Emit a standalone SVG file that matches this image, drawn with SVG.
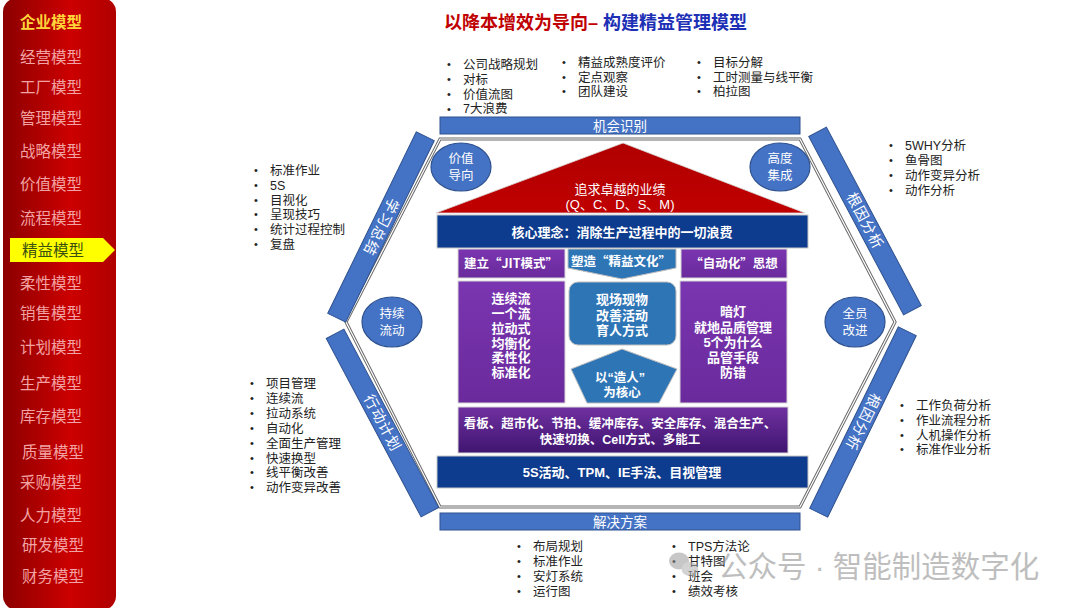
<svg xmlns="http://www.w3.org/2000/svg" width="1080" height="608" viewBox="0 0 1080 608">
<defs>
<linearGradient id="sideG" x1="0" y1="0" x2="1" y2="0">
<stop offset="0" stop-color="#8c0000"/><stop offset="0.6" stop-color="#cc0000"/><stop offset="1" stop-color="#b00000"/>
</linearGradient>
<linearGradient id="purG" x1="0" y1="0" x2="0" y2="1">
<stop offset="0" stop-color="#7a35b0"/><stop offset="1" stop-color="#6a2a9c"/>
</linearGradient>
<linearGradient id="bandG" x1="0" y1="0" x2="0" y2="1">
<stop offset="0" stop-color="#7030a0"/><stop offset="1" stop-color="#3f1570"/>
</linearGradient>
<linearGradient id="roofG" x1="0" y1="0" x2="0" y2="1">
<stop offset="0" stop-color="#b00000"/><stop offset="1" stop-color="#c00000"/>
</linearGradient>
<style>
text{font-family:"Liberation Sans","Noto Sans CJK SC",sans-serif;}
.cjk{font-family:"Noto Sans CJK SC",sans-serif;}
.side{font-size:15.5px;fill:#f2a3a3;}
.b{font-size:12.5px;fill:#222;}
.bul{font-size:11px;fill:#222;}
.bar{fill:#4472c4;stroke:#2f528f;stroke-width:1;}
.barT{font-size:13.5px;fill:#fff;text-anchor:middle;}
.circ{fill:#4472c4;stroke:#2f528f;stroke-width:1.2;}
.cT{font-size:12.5px;fill:#fff;text-anchor:middle;}
.wb{font-size:13px;fill:#fff;font-weight:bold;text-anchor:middle;}
.wn{font-size:13px;fill:#fff;text-anchor:middle;}
.pur{fill:url(#purG);stroke:#d8d8d8;stroke-width:1;}
.blu{fill:#2e75b6;stroke:#bfbfbf;stroke-width:1;}
.dk{fill:#0d3b8e;stroke:#c8c8c8;stroke-width:1;}
</style>
</defs>
<rect width="1080" height="608" fill="#ffffff"/>

<g id="sidebar">
<rect x="3" y="-2" width="113" height="612" rx="14" fill="url(#sideG)"/>
<text x="20" y="28" style="font-size:15.5px;fill:#ffd43b;font-weight:bold;">企业模型</text>
<text class="side" x="20" y="63">经营模型</text>
<text class="side" x="20" y="93">工厂模型</text>
<text class="side" x="20" y="124">管理模型</text>
<text class="side" x="20" y="157">战略模型</text>
<text class="side" x="20" y="190">价值模型</text>
<text class="side" x="20" y="224">流程模型</text>
<polygon points="10,238 103,238 115,250 103,262 10,262" fill="#ffff00"/>
<text x="22" y="256" style="font-size:15.5px;fill:#3a4f10;">精益模型</text>
<text class="side" x="20" y="289">柔性模型</text>
<text class="side" x="20" y="319">销售模型</text>
<text class="side" x="20" y="353">计划模型</text>
<text class="side" x="20" y="389">生产模型</text>
<text class="side" x="20" y="422">库存模型</text>
<text class="side" x="22" y="458">质量模型</text>
<text class="side" x="20" y="488">采购模型</text>
<text class="side" x="20" y="521">人力模型</text>
<text class="side" x="22" y="551">研发模型</text>
<text class="side" x="22" y="582">财务模型</text>
</g>

<g id="title">
<text x="444" y="29" style="font-size:18px;font-weight:bold;"><tspan fill="#c00000">以降本增效为导向– </tspan><tspan fill="#1c2fb5">构建精益管理模型</tspan></text>
</g>

<g id="frame">
<polygon points="440,139 800,139 895,322 800,507 440,507 346,322" fill="none" stroke="#6b6b6b" stroke-width="3.2"/>
<polygon points="440,139 800,139 895,322 800,507 440,507 346,322" fill="none" stroke="#ffffff" stroke-width="1.2"/>
</g>

<g id="bar-top">
<rect class="bar" x="440" y="117" width="360" height="17"/>
<text class="barT" x="620" y="130.5">机会识别</text>
</g>
<g id="bar-bottom">
<rect class="bar" x="440" y="513" width="360" height="17"/>
<text class="barT" x="620" y="526.5">解决方案</text>
</g>
<g id="bar-upper-left" transform="translate(381,227) rotate(116)">
<rect class="bar" x="-101" y="-10" width="202" height="20"/>
<text class="barT" x="0" y="5" style="font-size:14.5px;letter-spacing:1px;">学习总结</text>
</g>
<g id="bar-lower-left" transform="translate(382.5,423) rotate(62)">
<rect class="bar" x="-101" y="-10" width="202" height="20"/>
<text class="barT" x="0" y="5" style="font-size:14.5px;letter-spacing:1px;">行动计划</text>
</g>
<g id="bar-upper-right" transform="translate(865,221) rotate(62)">
<rect class="bar" x="-101" y="-10" width="202" height="20"/>
<text class="barT" x="0" y="5" style="font-size:14.5px;letter-spacing:1px;">根因分析</text>
</g>
<g id="bar-lower-right" transform="translate(863,422) rotate(116)">
<rect class="bar" x="-101" y="-10" width="202" height="20"/>
<text class="barT" x="0" y="5" style="font-size:14.5px;letter-spacing:1px;">根因分析</text>
</g>

<g id="c-value">
<ellipse class="circ" cx="461" cy="167" rx="30" ry="24"/>
<text class="cT" x="461" y="163">价值</text><text class="cT" x="461" y="180">导向</text>
</g>
<g id="c-integrate">
<ellipse class="circ" cx="780" cy="167" rx="30" ry="24"/>
<text class="cT" x="780" y="163">高度</text><text class="cT" x="780" y="180">集成</text>
</g>
<g id="c-flow">
<ellipse class="circ" cx="392" cy="322" rx="30" ry="25"/>
<text class="cT" x="392" y="318">持续</text><text class="cT" x="392" y="335">流动</text>
</g>
<g id="c-all">
<ellipse class="circ" cx="855" cy="322" rx="30" ry="25"/>
<text class="cT" x="855" y="318">全员</text><text class="cT" x="855" y="335">改进</text>
</g>

<g id="roof">
<polygon points="623,143 805,213 436,213" fill="url(#roofG)" stroke="#d9d9d9" stroke-width="0.8"/>
<text class="wn" x="620" y="194">追求卓越的业绩</text>
<text class="wn" x="620" y="209">(Q、C、D、S、M)</text>
</g>

<g id="core">
<rect class="dk" x="437" y="215" width="371" height="33"/>
<text class="wb" x="622" y="236.5">核心理念：消除生产过程中的一切浪费</text>
</g>

<g id="jit">
<rect class="pur" x="458" y="249" width="107" height="29"/>
<text class="wb cjk" x="511" y="268" style="font-size:12.5px;">建立“JIT模式”</text>
<rect class="pur" x="458" y="281" width="107" height="122"/>
<text class="wb" x="511" y="303">连续流</text>
<text class="wb" x="511" y="318">一个流</text>
<text class="wb" x="511" y="333">拉动式</text>
<text class="wb" x="511" y="348">均衡化</text>
<text class="wb" x="511" y="362">柔性化</text>
<text class="wb" x="511" y="377">标准化</text>
</g>

<g id="culture">
<polygon class="blu" points="568,249 676,249 676,268 622,279 568,268"/>
<text class="wb cjk" x="621" y="266" style="font-size:12.5px;">塑造“精益文化”</text>
<rect class="blu" x="569" y="282" width="107" height="63" rx="9"/>
<text class="wb" x="622" y="304">现场现物</text>
<text class="wb" x="622" y="320">改善活动</text>
<text class="wb" x="622" y="335">育人方式</text>
</g>

<g id="people">
<polygon class="blu" points="622,349 677,369 659,403 587,403 571,369"/>
<text class="wb" x="620" y="382" style="font-size:12.5px;">以“造人”</text>
<text class="wb" x="622" y="397" style="font-size:12.5px;">为核心</text>
</g>

<g id="jidoka">
<rect class="pur" x="681" y="249" width="106" height="29"/>
<text class="wb cjk" x="734" y="268" style="font-size:12.5px;">“自动化”思想</text>
<rect class="pur" x="680" y="281" width="107" height="122"/>
<text class="wb" x="733" y="316">暗灯</text>
<text class="wb" x="733" y="332">就地品质管理</text>
<text class="wb" x="733" y="347">5个为什么</text>
<text class="wb" x="733" y="362">品管手段</text>
<text class="wb" x="733" y="377">防错</text>
</g>

<g id="tools">
<rect x="458" y="407" width="330" height="46" fill="url(#bandG)" stroke="#d8d8d8" stroke-width="1"/>
<text class="wb" x="620" y="428" style="font-size:12.5px;">看板、超市化、节拍、缓冲库存、安全库存、混合生产、</text>
<text class="wb" x="620" y="444" style="font-size:12.5px;">快速切换、Cell方式、多能工</text>
</g>

<g id="base">
<rect class="dk" x="437" y="456" width="371" height="32"/>
<text class="wb" x="622" y="477">5S活动、TPM、IE手法、目视管理</text>
</g>

<g id="list-top">
<text class="bul" x="447" y="68">•</text><text class="b" x="463" y="68.5">公司战略规划</text>
<text class="bul" x="447" y="83">•</text><text class="b" x="463" y="83.5">对标</text>
<text class="bul" x="447" y="98">•</text><text class="b" x="463" y="98.5">价值流图</text>
<text class="bul" x="447" y="113">•</text><text class="b" x="463" y="113">7大浪费</text>
<text class="bul" x="562" y="66">•</text><text class="b" x="578" y="66.5">精益成熟度评价</text>
<text class="bul" x="562" y="81">•</text><text class="b" x="578" y="81.5">定点观察</text>
<text class="bul" x="562" y="95">•</text><text class="b" x="578" y="95.5">团队建设</text>
<text class="bul" x="697" y="66">•</text><text class="b" x="713" y="66.5">目标分解</text>
<text class="bul" x="697" y="81">•</text><text class="b" x="713" y="81.5">工时测量与线平衡</text>
<text class="bul" x="697" y="95">•</text><text class="b" x="713" y="95.5">柏拉图</text>
</g>

<g id="list-left-top">
<text class="bul" x="254" y="174">•</text><text class="b" x="270" y="174.5">标准作业</text>
<text class="bul" x="254" y="189">•</text><text class="b" x="270" y="189.5">5S</text>
<text class="bul" x="254" y="204">•</text><text class="b" x="270" y="204.5">目视化</text>
<text class="bul" x="254" y="218">•</text><text class="b" x="270" y="218.5">呈现技巧</text>
<text class="bul" x="254" y="233">•</text><text class="b" x="270" y="233.5">统计过程控制</text>
<text class="bul" x="254" y="248">•</text><text class="b" x="270" y="248.5">复盘</text>
</g>

<g id="list-left-bottom">
<text class="bul" x="250" y="387">•</text><text class="b" x="266" y="387.5">项目管理</text>
<text class="bul" x="250" y="402">•</text><text class="b" x="266" y="402.5">连续流</text>
<text class="bul" x="250" y="417">•</text><text class="b" x="266" y="417.5">拉动系统</text>
<text class="bul" x="250" y="432">•</text><text class="b" x="266" y="432.5">自动化</text>
<text class="bul" x="250" y="447">•</text><text class="b" x="266" y="447.5">全面生产管理</text>
<text class="bul" x="250" y="462">•</text><text class="b" x="266" y="462.5">快速换型</text>
<text class="bul" x="250" y="476">•</text><text class="b" x="266" y="476.5">线平衡改善</text>
<text class="bul" x="250" y="491">•</text><text class="b" x="266" y="491.5">动作变异改善</text>
</g>

<g id="list-right-top">
<text class="bul" x="889" y="149">•</text><text class="b" x="905" y="149.5">5WHY分析</text>
<text class="bul" x="889" y="164">•</text><text class="b" x="905" y="164.5">鱼骨图</text>
<text class="bul" x="889" y="179">•</text><text class="b" x="905" y="179.5">动作变异分析</text>
<text class="bul" x="889" y="194">•</text><text class="b" x="905" y="194.5">动作分析</text>
</g>

<g id="list-right-bottom">
<text class="bul" x="900" y="409">•</text><text class="b" x="916" y="409.5">工作负荷分析</text>
<text class="bul" x="900" y="424">•</text><text class="b" x="916" y="424.5">作业流程分析</text>
<text class="bul" x="900" y="439">•</text><text class="b" x="916" y="439.5">人机操作分析</text>
<text class="bul" x="900" y="453">•</text><text class="b" x="916" y="453.5">标准作业分析</text>
</g>

<g id="list-bottom">
<text class="bul" x="517" y="550">•</text><text class="b" x="533" y="550.5">布局规划</text>
<text class="bul" x="517" y="565">•</text><text class="b" x="533" y="565.5">标准作业</text>
<text class="bul" x="517" y="580">•</text><text class="b" x="533" y="580.5">安灯系统</text>
<text class="bul" x="517" y="595">•</text><text class="b" x="533" y="595.5">运行图</text>
<text class="bul" x="672" y="550">•</text><text class="b" x="688" y="550.5">TPS方法论</text>
<text class="bul" x="672" y="565">•</text><text class="b" x="688" y="565.5">甘特图</text>
<text class="bul" x="672" y="580">•</text><text class="b" x="688" y="580.5">班会</text>
<text class="bul" x="672" y="595">•</text><text class="b" x="688" y="595.5">绩效考核</text>
</g>

<g id="watermark" opacity="0.55">
<ellipse cx="679" cy="561" rx="10" ry="8.5" fill="#9a9a9a"/>
<ellipse cx="690" cy="569" rx="8.5" ry="7" fill="#b0b0b0"/>
<text x="718" y="577" style="font-size:29.5px;fill:#8a8a8a;">公众号 · 智能制造数字化</text>
</g>
</svg>
